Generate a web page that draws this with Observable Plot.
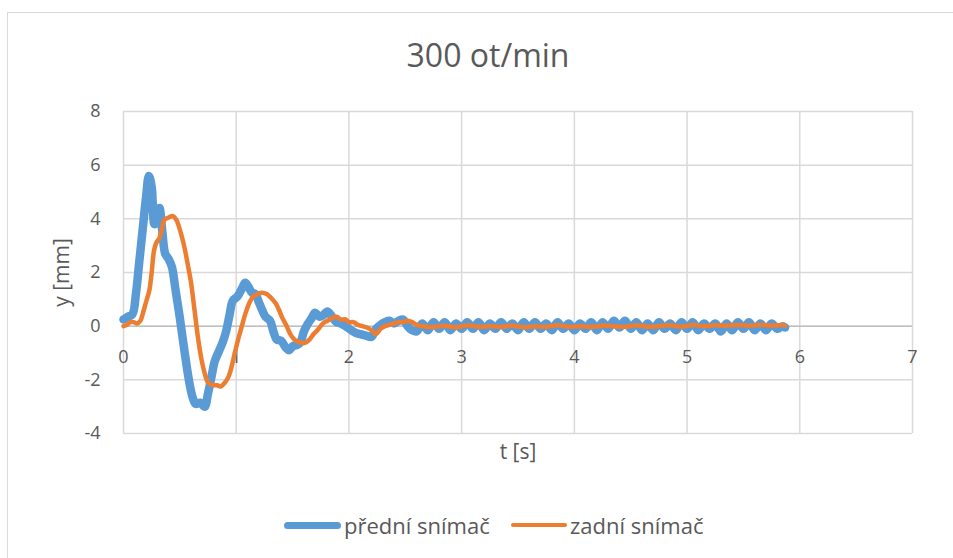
<!DOCTYPE html>
<html>
<head>
<meta charset="utf-8">
<script src="https://cdn.jsdelivr.net/npm/d3@7"></script>
<script src="https://cdn.jsdelivr.net/npm/@observablehq/plot@0.6"></script>
<style>
  html, body { margin: 0; padding: 0; background: #fff; }
  body { width: 953px; height: 558px; overflow: hidden; font-family: "Open Sans", sans-serif; }
  #frame { position: absolute; left: 7px; top: 12px; width: 960px; height: 560px;
           border-left: 1.5px solid #d9d9d9; border-top: 1.5px solid #d9d9d9; box-sizing: border-box; }
  #wrap { position: relative; width: 953px; height: 558px; }
  #title { position: absolute; left: 0; top: 33px; width: 976px; text-align: center;
           font-size: 32px; color: #595959; line-height: 44px; }
  #chart { position: absolute; left: 0; top: 90px; }
  #legend { position: absolute; left: 0; top: 510px; width: 953px; height: 30px; font-size: 22px; color: #595959; }
  .item { position: absolute; top: 0; display: flex; align-items: center; height: 30px; }
  .sw { display: inline-block; height: 0; margin-right: 3px; border-radius: 4px; }
</style>
</head>
<body>
<div id="wrap">
  <div id="frame"></div>
  <div id="title">300 ot/min</div>
  <div id="chart"></div>
  <div id="legend"></div>
</div>
<script>
// ---- data ----
const seriesNames = ["přední snímač", "zadní snímač"];
const seriesColors = ["#5b9bd5", "#ed7d31"];

const tFront = [0.00,0.04,0.08,0.11,0.14,0.17,0.20,0.225,0.25,0.275,0.30,0.32,0.345,0.37,0.40,0.43,0.46,0.50,0.54,0.58,
  0.61,0.64,0.68,0.72,0.75,0.78,0.81,0.85,0.88,0.91,0.94,0.97,1.01,1.05,1.08,1.11,1.14,1.17,1.20,1.23,
  1.26,1.30,1.33,1.36,1.40,1.44,1.47,1.50,1.54,1.57,1.60,1.63,1.67,1.70,1.74,1.77,1.81,1.85,1.89,1.93,
  1.97,2.02,2.06,2.10,2.15,2.20,2.24,2.28,2.32,2.36,2.40,2.44,2.48,2.52,2.56,2.60,
  2.65,2.70,2.75,2.80,2.85,2.90,2.95,3.00,3.05,3.10,3.15,3.20,3.25,3.30,3.35,3.40,3.45,3.50,3.55,3.60,
  3.65,3.70,3.75,3.80,3.85,3.90,3.95,4.00,4.05,4.10,4.15,4.20,4.25,4.30,4.35,4.40,4.45,4.50,4.55,4.60,
  4.65,4.70,4.75,4.80,4.85,4.90,4.95,5.00,5.05,5.10,5.15,5.20,5.25,5.30,5.35,5.40,5.45,5.50,5.55,5.60,
  5.65,5.70,5.75,5.80,5.85,5.87];
const yFront = [0.25,0.35,0.45,1.2,2.4,3.6,4.8,5.6,5.2,3.8,4.0,4.4,3.5,2.7,2.5,2.2,1.4,0.3,-0.9,-2.0,
  -2.6,-2.9,-2.85,-3.0,-2.5,-1.9,-1.3,-0.9,-0.6,-0.2,0.4,0.95,1.1,1.4,1.62,1.45,1.25,1.2,0.9,0.6,
  0.35,0.2,-0.2,-0.5,-0.55,-0.8,-0.9,-0.75,-0.7,-0.6,-0.2,0.05,0.3,0.5,0.35,0.4,0.55,0.35,0.15,0.1,
  0.0,-0.15,-0.25,-0.3,-0.35,-0.4,-0.1,0.05,0.15,0.2,0.1,0.2,0.25,0.0,-0.15,-0.2,
  0.1,-0.15,0.15,-0.1,0.15,-0.15,0.1,-0.1,0.15,-0.1,0.15,-0.15,0.1,-0.1,0.15,-0.1,0.1,-0.15,0.15,-0.1,
  0.15,-0.1,0.1,-0.15,0.15,-0.1,0.1,-0.15,0.1,-0.1,0.15,-0.15,0.15,-0.1,0.2,-0.05,0.2,-0.1,0.15,-0.15,
  0.1,-0.15,0.15,-0.1,0.1,-0.15,0.15,-0.1,0.15,-0.15,0.1,-0.1,0.1,-0.2,0.1,-0.15,0.15,-0.1,0.15,-0.15,
  0.1,-0.15,0.1,-0.1,0.0,-0.05];

const tRear = [0.00,0.03,0.06,0.09,0.12,0.15,0.17,0.20,0.23,0.25,0.27,0.29,0.32,0.34,0.36,0.40,0.44,0.47,0.50,0.54,
  0.57,0.60,0.63,0.66,0.69,0.72,0.75,0.79,0.83,0.86,0.90,0.93,0.96,0.99,1.02,1.05,1.08,1.12,1.15,1.19,
  1.23,1.27,1.31,1.35,1.38,1.41,1.45,1.48,1.52,1.56,1.61,1.65,1.68,1.72,1.77,1.81,1.85,1.89,1.93,1.97,
  2.00,2.04,2.08,2.12,2.16,2.20,2.24,2.28,2.32,2.36,2.40,2.44,2.48,2.52,2.56,2.60,2.65,
  2.75,2.85,2.95,3.05,3.15,3.25,3.35,3.45,3.55,3.65,3.75,3.85,3.95,4.05,4.15,4.25,4.35,4.45,4.55,4.65,
  4.75,4.85,4.95,5.05,5.15,5.25,5.35,5.45,5.55,5.65,5.75,5.85,5.87];
const yRear = [0.0,0.05,0.15,0.15,0.1,0.2,0.45,0.9,1.35,2.0,2.8,3.1,3.3,3.6,3.95,4.05,4.1,3.95,3.6,2.95,
  2.3,1.6,0.6,-0.4,-1.2,-1.75,-2.1,-2.2,-2.2,-2.25,-2.1,-1.9,-1.5,-0.95,-0.45,0.0,0.45,0.9,1.1,1.2,
  1.25,1.2,1.05,0.85,0.6,0.3,-0.02,-0.3,-0.52,-0.6,-0.62,-0.5,-0.33,-0.15,0.1,0.2,0.3,0.35,0.25,0.25,
  0.15,0.15,0.05,0.0,-0.05,-0.15,-0.3,-0.1,0.0,0.05,0.1,0.15,0.15,0.2,0.15,0.05,0.0,
  -0.03,0.02,-0.04,0.03,-0.02,0.0,-0.03,0.02,-0.04,0.0,-0.02,0.03,-0.02,0.0,-0.03,0.02,0.0,-0.02,0.03,-0.02,
  0.0,0.03,-0.02,0.04,0.0,0.03,0.02,0.04,0.02,0.05,0.02,0.04,0.02];

const xTicks = [0,1,2,3,4,5,6,7];
const yTicks = [-4,-2,0,2,4,6,8];
const xLabel = "t [s]";
const yLabel = "y [mm]";

// ---- build ----
const front = tFront.map((t, i) => ({t, v: yFront[i]}));
const rear = tRear.map((t, i) => ({t, v: yRear[i]}));
const txt = "#595959";

const plot = Plot.plot({
  width: 953,
  height: 390,
  marginLeft: 123,
  marginRight: 41,
  marginTop: 21,
  marginBottom: 47,
  style: {fontFamily: "'Open Sans', sans-serif", color: txt, background: "transparent", overflow: "visible"},
  x: {domain: [0, 7], axis: null},
  y: {domain: [-4, 8], axis: null},
  marks: [
    Plot.gridY(yTicks, {stroke: "#d9d9d9", strokeOpacity: 1, strokeWidth: 1.5}),
    Plot.gridX(xTicks, {stroke: "#d9d9d9", strokeOpacity: 1, strokeWidth: 1.5}),
    Plot.ruleY([0], {stroke: "#bfbfbf", strokeWidth: 1.5}),
    Plot.text(yTicks, {y: d => d, frameAnchor: "left", dx: -23, textAnchor: "end", fontSize: 18, fill: txt, text: d => String(d)}),
    Plot.text(xTicks, {x: d => d, y: 0, dy: 31, fontSize: 18, fill: txt, text: d => String(d)}),
    Plot.line(front, {x: "t", y: "v", stroke: seriesColors[0], strokeWidth: 8.5, strokeLinecap: "round", strokeLinejoin: "round", curve: "catmull-rom"}),
    Plot.line(rear, {x: "t", y: "v", stroke: seriesColors[1], strokeWidth: 4.5, strokeLinecap: "round", strokeLinejoin: "round", curve: "catmull-rom"}),
    Plot.text([xLabel], {frameAnchor: "bottom", dy: 25, fontSize: 21, fill: txt, text: d => d}),
    Plot.text([yLabel], {frameAnchor: "left", textAnchor: "middle", dx: -61, rotate: -90, fontSize: 21, fill: txt, text: d => d})
  ]
});
document.getElementById("chart").appendChild(plot);

// legend
const legend = document.getElementById("legend");
const lx = [284, 511];
const sw = [[57, 7.5], [56, 4.5]];
seriesNames.forEach((name, i) => {
  const item = document.createElement("div");
  item.className = "item";
  item.style.left = lx[i] + "px";
  const s = document.createElement("span");
  s.className = "sw";
  s.style.width = sw[i][0] + "px";
  s.style.borderTop = sw[i][1] + "px solid " + seriesColors[i];
  item.appendChild(s);
  item.appendChild(document.createTextNode(name));
  legend.appendChild(item);
});
</script>
</body>
</html>
